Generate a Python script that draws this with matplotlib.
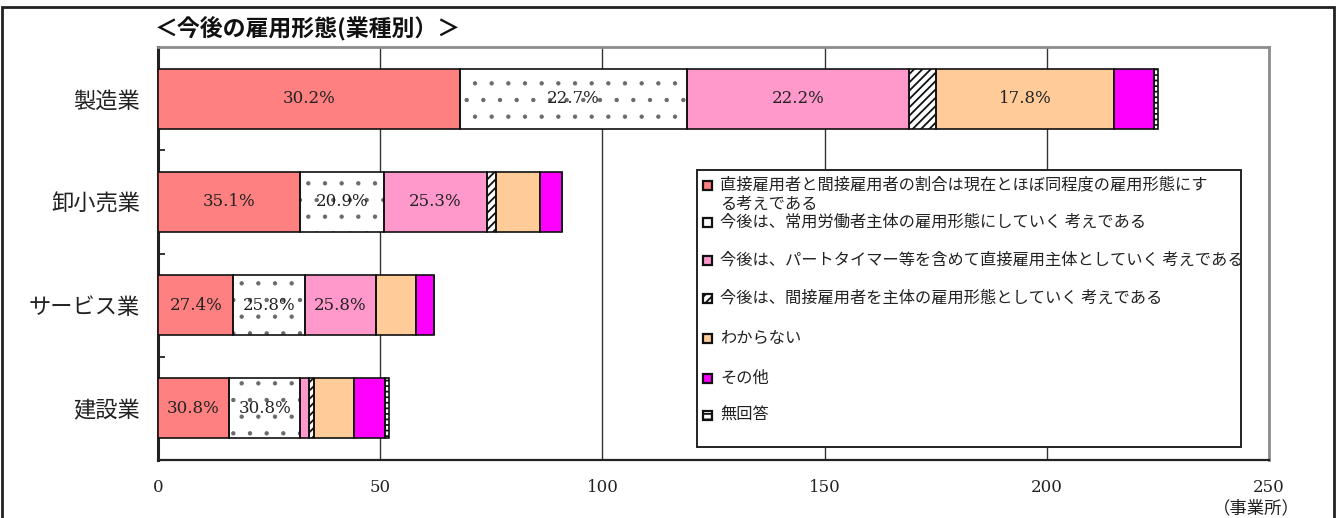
import matplotlib
matplotlib.use("Agg")
import matplotlib.pyplot as plt
from matplotlib.patches import Rectangle
import numpy as np

plt.rcParams['font.family'] = ['Noto Sans CJK JP', 'DejaVu Sans']

# Industries (top to bottom) and number of responding establishments
industries = ["製造業", "卸小売業", "サービス業", "建設業"]
totals = [225, 91, 62, 52]

# Share (%) of establishments by future employment intention
share_same = [30.2, 35.1, 27.4, 30.8]
share_regular = [22.7, 20.9, 25.8, 30.8]
share_direct_part = [22.2, 25.3, 25.8, 3.8]
share_indirect = [2.7, 2.2, 0.0, 1.9]
share_unknown = [17.8, 11.0, 14.5, 17.3]
share_other = [4.0, 5.5, 6.5, 13.5]
share_no_answer = [0.4, 0.0, 0.0, 1.9]

series_labels = [
    "直接雇用者と間接雇用者の割合は現在とほぼ同程度の雇用形態にす\nる考えである",
    "今後は、常用労働者主体の雇用形態にしていく 考えである",
    "今後は、パートタイマー等を含めて直接雇用主体としていく 考えである",
    "今後は、間接雇用者を主体の雇用形態としていく 考えである",
    "わからない",
    "その他",
    "無回答",
]
xticks = [0, 50, 100, 150, 200, 250]

series = [share_same, share_regular, share_direct_part, share_indirect,
          share_unknown, share_other, share_no_answer]
styles = [
    dict(facecolor="#FF8080", hatch=None, hc="#111111", hlw=1.0),
    dict(facecolor="white", hatch=".", hc="#6A6A6A", hlw=0.7),
    dict(facecolor="#FF99CC", hatch=None, hc="#111111", hlw=1.0),
    dict(facecolor="white", hatch="////", hc="#111111", hlw=1.3),
    dict(facecolor="#FFCC99", hatch=None, hc="#111111", hlw=1.0),
    dict(facecolor="#FF00FF", hatch=None, hc="#111111", hlw=1.0),
    dict(facecolor="white", hatch="---", hc="#111111", hlw=1.3),
]
EDGE = "#111111"

W, H = 1336, 518
fig = plt.figure(figsize=(W / 100, H / 100), dpi=100)
ax = fig.add_axes([158 / W, 58 / H, 1111 / W, 413 / H])

y = np.arange(len(industries))
tot = np.array(totals, dtype=float)
left = np.zeros(len(industries))
for vals, st in zip(series, styles):
    widths = np.array(vals) * tot / 100.0
    # fill + hatch pass (hatch follows the edge colour), then the outlines
    with plt.rc_context({"hatch.linewidth": st["hlw"]}):
        ax.barh(y, widths, left=left, height=0.58, facecolor=st["facecolor"],
                hatch=st["hatch"], edgecolor=st["hc"], linewidth=0, zorder=3)
    ax.barh(y, widths, left=left, height=0.58, facecolor="none",
            edgecolor=EDGE, linewidth=1.2, zorder=3.5)
    for yi, (l, w, v) in enumerate(zip(left, widths, vals)):
        if w >= 15:
            ax.text(l + w / 2, yi, f"{v:.1f}%", ha="center", va="center",
                    fontsize=12, family="DejaVu Serif", color="#222222",
                    zorder=4)
    left = left + widths

ax.set_xlim(0, 250)
ax.set_ylim(len(industries) - 0.5, -0.5)
ax.set_xticks(xticks)
ax.set_xticklabels([str(t) for t in xticks], family="DejaVu Serif",
                   fontsize=12, color="#222222")
ax.tick_params(axis="x", length=0, pad=14)
ax.set_yticks(y)
ax.set_yticklabels(industries, fontsize=16, color="#222222")
ax.tick_params(axis="y", which="major", length=0, pad=13)
ax.set_yticks(y[:-1] + 0.5, minor=True)
ax.tick_params(axis="y", which="minor", direction="in", length=5,
               width=1.2, color="#111111")

ax.grid(axis="x", color="#333333", linewidth=1.0, zorder=0)
ax.set_axisbelow(True)
ax.spines["left"].set_linewidth(2.2)
ax.spines["left"].set_color("#222222")
ax.spines["bottom"].set_linewidth(1.6)
ax.spines["bottom"].set_color("#222222")
for s in ("top", "right"):
    ax.spines[s].set_linewidth(2.0)
    ax.spines[s].set_color("#8C8C8C")


# Legend panel drawn in axes coordinates (arguments in pixel units)
def ax_x(px):
    return (px - 158) / 1111.0


def ax_y(py):
    return (460 - py) / 413.0


ax.add_patch(Rectangle((ax_x(697), ax_y(447)), ax_x(1241) - ax_x(697),
                       ax_y(170) - ax_y(447), transform=ax.transAxes,
                       facecolor="white", edgecolor="#222222", linewidth=1.4,
                       zorder=6, clip_on=False))
entry_y = [185, 222, 260, 298, 338, 378, 415]
for lab, st, py in zip(series_labels, styles, entry_y):
    x0, x1 = ax_x(703), ax_x(712)
    y0, y1 = ax_y(py + 4.5), ax_y(py - 4.5)
    with plt.rc_context({"hatch.linewidth": st["hlw"]}):
        ax.add_patch(Rectangle((x0, y0), x1 - x0, y1 - y0,
                               transform=ax.transAxes,
                               facecolor=st["facecolor"], hatch=st["hatch"],
                               edgecolor=st["hc"], linewidth=0, zorder=7,
                               clip_on=False))
    ax.add_patch(Rectangle((x0, y0), x1 - x0, y1 - y0, transform=ax.transAxes,
                           facecolor="none", edgecolor=EDGE, linewidth=1.6,
                           zorder=7.5, clip_on=False))
    multiline = "\n" in lab
    ty = ax_y(py - 9) if multiline else ax_y(py)
    ax.text(ax_x(720), ty, lab, transform=ax.transAxes, fontsize=11.7,
            ha="left", va="top" if multiline else "center",
            color="#222222", zorder=8, linespacing=1.2)

fig.text(155 / W, 1 - 28 / H, "＜今後の雇用形態(業種別）＞", fontsize=16.5,
         fontweight="bold", ha="left", va="center", color="#111111")
fig.text(1256 / W, 1 - 508 / H, "（事業所）", fontsize=12.5, ha="center",
         va="center", color="#222222")

fig.patches.append(Rectangle((2 / W, -0.02), (1334 - 2) / W, 1.02 - 7 / H,
                             transform=fig.transFigure, fill=False,
                             edgecolor="#222222", linewidth=2.0))

fig.savefig("out.png", dpi=100)
